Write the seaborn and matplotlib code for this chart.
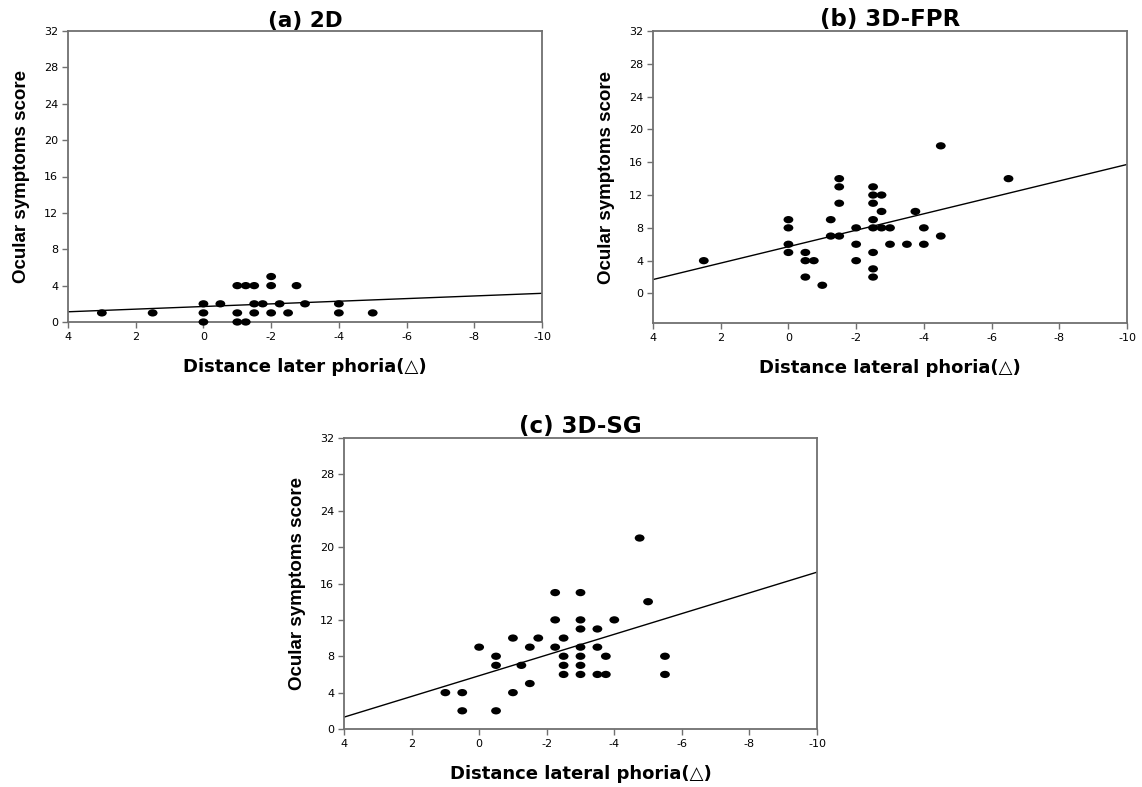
import numpy as np
import pandas as pd
import matplotlib
matplotlib.use("Agg")
import matplotlib.pyplot as plt
import seaborn as sns
from matplotlib.path import Path
from matplotlib.transforms import Affine2D

# ---- data ----
a_x = [3, 1.5, 0, 0, 0, -0.5, -1, -1, -1, -1.25, -1.25, -1.5, -1.5, -1.5, -1.75,
       -2, -2, -2, -2.25, -2.5, -2.75, -3, -4, -4, -5]
a_y = [1, 1, 0, 1, 2, 2, 4, 1, 0, 4, 0, 4, 2, 1, 2,
       5, 4, 1, 2, 1, 4, 2, 2, 1, 1]

b_x = [2.5, 0, 0, 0, 0, -0.5, -0.5, -0.5, -0.75, -1, -1.25, -1.25,
       -1.5, -1.5, -1.5, -1.5, -2, -2, -2,
       -2.5, -2.5, -2.5, -2.5, -2.5, -2.5, -2.5, -2.5,
       -2.75, -2.75, -2.75, -3, -3, -3.5, -3.75, -4, -4, -4.5, -4.5, -6.5]
b_y = [4, 9, 8, 6, 5, 5, 4, 2, 4, 1, 9, 7,
       14, 13, 11, 7, 8, 6, 4,
       13, 12, 11, 9, 8, 5, 3, 2,
       12, 10, 8, 8, 6, 6, 10, 8, 6, 18, 7, 14]

c_x = [1, 0.5, 0.5, 0, -0.5, -0.5, -0.5, -1, -1, -1.25, -1.5, -1.5, -1.75,
       -2.25, -2.25, -2.25, -2.5, -2.5, -2.5, -2.5,
       -3, -3, -3, -3, -3, -3, -3, -3.5, -3.5, -3.5, -3.75, -3.75,
       -4, -4.75, -5, -5.5, -5.5]
c_y = [4, 4, 2, 9, 8, 7, 2, 10, 4, 7, 9, 5, 10,
       15, 12, 9, 10, 8, 7, 6,
       15, 12, 11, 9, 8, 7, 6, 11, 9, 6, 8, 6,
       12, 21, 14, 8, 6]

titles = ["(a) 2D", "(b) 3D-FPR", "(c) 3D-SG"]
xlabels = ["Distance later phoria(\u25b3)", "Distance lateral phoria(\u25b3)",
           "Distance lateral phoria(\u25b3)"]
ylabel = "Ocular symptoms score"
xticks = [4, 2, 0, -2, -4, -6, -8, -10]
yticks = [0, 4, 8, 12, 16, 20, 24, 28, 32]
ybottoms = [0, -3.6, 0]

sns.set_theme(style="white")
plt.rcParams['font.family'] = ['DejaVu Sans']
plt.rcParams['text.color'] = 'black'
plt.rcParams['axes.labelcolor'] = 'black'
plt.rcParams['axes.titlecolor'] = 'black'

W, H = 1142, 787
fig = plt.figure(figsize=(W / 100, H / 100), dpi=100)

boxes = [(68, 31, 542, 322), (653, 31, 1127, 323), (344, 438, 817, 729)]
datasets = [(a_x, a_y), (b_x, b_y), (c_x, c_y)]
title_sizes = [15.5, 16.5, 16.5]

ell = Path.unit_circle().transformed(Affine2D().scale(1.35, 1.0))
spine_col = "#707070"

for i, ((l, t, r, b), (xs, ys)) in enumerate(zip(boxes, datasets)):
    ax = fig.add_axes([l / W, 1 - b / H, (r - l) / W, (b - t) / H])
    ax.set_xlim(4, -10)
    ax.set_ylim(ybottoms[i], 32)
    df = pd.DataFrame({"x": xs, "y": ys})
    sns.regplot(data=df, x="x", y="y", ax=ax, ci=None, truncate=False,
                marker=ell,
                scatter_kws=dict(s=50, color="black", edgecolors="none", alpha=1,
                                 zorder=3, clip_on=False),
                line_kws=dict(color="black", lw=1, zorder=2))
    ax.set_xlim(4, -10)
    ax.set_ylim(ybottoms[i], 32)
    ax.set_xticks(xticks)
    ax.set_yticks(yticks)
    ax.set_xticklabels([str(v) for v in xticks])
    ax.tick_params(axis="both", which="both", direction="out", length=4, width=1,
                   color=spine_col, labelsize=8, bottom=True, left=True, top=False, right=False,
                   pad=3, labelcolor="black")
    for s in ax.spines.values():
        s.set_color(spine_col)
        s.set_linewidth(1.3)
    ax.set_title(titles[i], fontsize=title_sizes[i], fontweight="bold", pad=2, color="black")
    ax.set_xlabel(xlabels[i], fontsize=13, fontweight="bold", labelpad=12, color="black")
    ax.set_ylabel(ylabel, fontsize=13.5, fontweight="bold", labelpad=10, color="black",
                  family=['Liberation Sans', 'DejaVu Sans'])
    ax.grid(False)

fig.savefig("out.png", dpi=100)
